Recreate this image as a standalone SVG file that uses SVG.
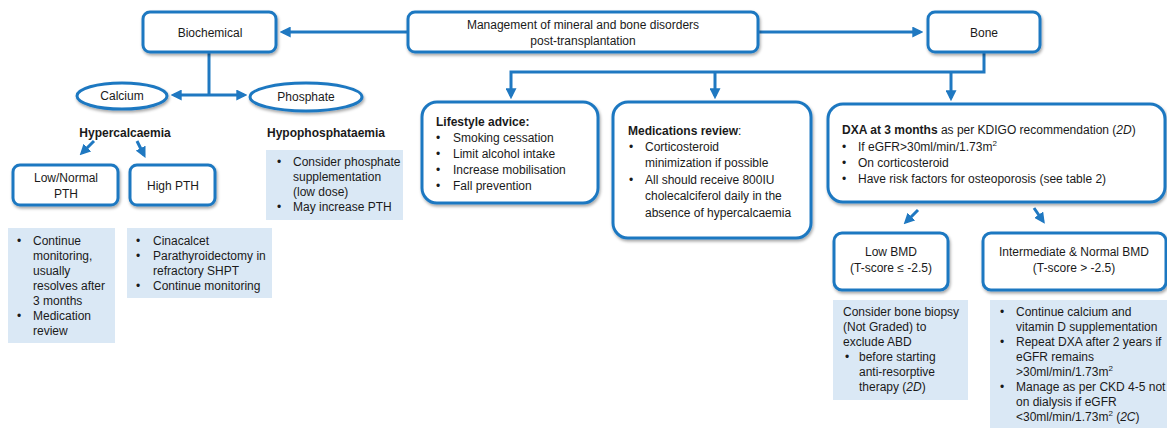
<svg xmlns="http://www.w3.org/2000/svg" width="1167" height="428" viewBox="0 0 1167 428">
<defs>
<filter id="sh" x="-10%" y="-10%" width="120%" height="130%"><feDropShadow dx="1" dy="2" stdDeviation="1.5" flood-color="#000" flood-opacity="0.35"/></filter>
<marker id="ah" markerWidth="11" markerHeight="11" refX="7" refY="5" orient="auto" markerUnits="userSpaceOnUse" viewBox="0 0 10 10"><path d="M0,0 L10,5 L0,10 z" fill="#1f78c1"/></marker>
<style>
.box{fill:#fff;stroke:#1f78c1;stroke-width:3;filter:url(#sh)}
.note{fill:#dae8f5}
.c{fill:none;stroke:#1f78c1;stroke-width:3}
text{font-family:"Liberation Sans",Arial,sans-serif;font-size:12px;fill:#1a1a1a}
.m{text-anchor:middle}
.b{font-weight:bold}
.i{font-style:italic}
</style>
</defs>
<g id="connectors">
<path class="c" d="M408,32 H283" marker-end="url(#ah)"/>
<path class="c" d="M758,32 H920" marker-end="url(#ah)"/>
<path class="c" d="M209,52 V95"/>
<path class="c" d="M209,95 H174" marker-end="url(#ah)"/>
<path class="c" d="M209,95 H244" marker-end="url(#ah)"/>
<path class="c" d="M984,52 V72 H511 V96" marker-end="url(#ah)"/>
<path class="c" d="M715,72 V96" marker-end="url(#ah)"/>
<path class="c" d="M951,72 V98" marker-end="url(#ah)"/>
<path class="c" d="M94,141 L82,153" marker-end="url(#ah)"/>
<path class="c" d="M137,141 L144,155" marker-end="url(#ah)"/>
<path class="c" d="M918,210 L906,222" marker-end="url(#ah)"/>
<path class="c" d="M1034,208 L1043,221" marker-end="url(#ah)"/>
</g>
<g id="main">
<rect class="box" x="408" y="12" width="350" height="40" rx="7"/>
<text class="m" x="583" y="29" font-size="13">Management of mineral and bone disorders</text>
<text class="m" x="583" y="45" font-size="13">post-transplantation</text>
</g>
<g id="biochemical">
<rect class="box" x="143" y="12" width="133" height="40" rx="7"/>
<text class="m" x="210" y="37" font-size="13">Biochemical</text>
</g>
<g id="bone">
<rect class="box" x="928" y="12" width="112" height="40" rx="7"/>
<text class="m" x="984" y="37" font-size="13">Bone</text>
</g>
<g id="calcium">
<ellipse class="box" cx="122" cy="96" rx="45" ry="13"/>
<text class="m" x="122" y="100" font-size="13">Calcium</text>
</g>
<g id="phosphate">
<ellipse class="box" cx="306" cy="97" rx="56" ry="14"/>
<text class="m" x="306" y="101" font-size="13">Phosphate</text>
</g>
<g id="hypercalcaemia">
<text class="m b" x="125" y="137" font-size="13">Hypercalcaemia</text>
</g>
<g id="hypophosphataemia">
<text class="m b" x="326" y="137" font-size="13">Hypophosphataemia</text>
</g>
<g id="lownormalpth">
<rect class="box" x="13" y="165" width="105" height="40" rx="7"/>
<text class="m" x="66" y="182" font-size="13">Low/Normal</text>
<text class="m" x="66" y="198" font-size="13">PTH</text>
</g>
<g id="highpth">
<rect class="box" x="130" y="165" width="85" height="40" rx="7"/>
<text class="m" x="173" y="190" font-size="13">High PTH</text>
</g>
<g id="phosphate-note">
<rect class="note" x="266" y="150" width="137" height="70"/>
<text x="277" y="166">•</text><text x="293" y="166">Consider phosphate</text>
<text x="293" y="181">supplementation</text>
<text x="293" y="196">(low dose)</text>
<text x="277" y="211">•</text><text x="293" y="211">May increase PTH</text>
</g>
<g id="lownormal-note">
<rect class="note" x="8" y="228" width="107" height="115"/>
<text x="17" y="245">•</text><text x="33" y="245">Continue</text>
<text x="33" y="260">monitoring,</text>
<text x="33" y="275">usually</text>
<text x="33" y="290">resolves after</text>
<text x="33" y="305">3 months</text>
<text x="17" y="320">•</text><text x="33" y="320">Medication</text>
<text x="33" y="335">review</text>
</g>
<g id="highpth-note">
<rect class="note" x="127" y="228" width="145" height="70"/>
<text x="136" y="245">•</text><text x="153" y="245">Cinacalcet</text>
<text x="136" y="260">•</text><text x="153" y="260">Parathyroidectomy in</text>
<text x="153" y="275">refractory SHPT</text>
<text x="136" y="290">•</text><text x="153" y="290">Continue monitoring</text>
</g>
<g id="lifestyle">
<rect class="box" x="422" y="102" width="176" height="101" rx="15"/>
<text class="b" x="436" y="126" font-size="12.5">Lifestyle advice:</text>
<text x="436" y="142">•</text><text x="453" y="142">Smoking cessation</text>
<text x="436" y="158">•</text><text x="453" y="158">Limit alcohol intake</text>
<text x="436" y="174">•</text><text x="453" y="174">Increase mobilisation</text>
<text x="436" y="190">•</text><text x="453" y="190">Fall prevention</text>
</g>
<g id="medications">
<rect class="box" x="613" y="102" width="198" height="136" rx="15"/>
<text x="628" y="135" font-size="12.5"><tspan class="b">Medications review</tspan>:</text>
<text x="629" y="151">•</text><text x="645" y="151">Corticosteroid</text>
<text x="645" y="167">minimization if possible</text>
<text x="629" y="184">•</text><text x="645" y="184">All should receive 800IU</text>
<text x="645" y="200">cholecalciferol daily in the</text>
<text x="645" y="217">absence of hypercalcaemia</text>
</g>
<g id="dxa">
<rect class="box" x="828" y="104" width="337" height="98" rx="15"/>
<text x="842" y="134" font-size="12.5"><tspan class="b">DXA at 3 months</tspan> as per KDIGO recommendation (<tspan class="i">2D</tspan>)</text>
<text x="842" y="151">•</text><text x="858" y="151">If eGFR&gt;30ml/min/1.73m<tspan font-size="8" dy="-5">2</tspan></text>
<text x="842" y="167">•</text><text x="858" y="167">On corticosteroid</text>
<text x="842" y="183">•</text><text x="858" y="183">Have risk factors for osteoporosis (see table 2)</text>
</g>
<g id="lowbmd">
<rect class="box" x="834" y="233" width="114" height="57" rx="8"/>
<text class="m" x="891" y="256" font-size="12.5">Low BMD</text>
<text class="m" x="891" y="272" font-size="12.5">(T-score ≤ -2.5)</text>
</g>
<g id="intbmd">
<rect class="box" x="983" y="233" width="183" height="57" rx="8"/>
<text class="m" x="1074" y="256" font-size="12.5">Intermediate &amp; Normal BMD</text>
<text class="m" x="1074" y="272" font-size="12.5">(T-score &gt; -2.5)</text>
</g>
<g id="lowbmd-note">
<rect class="note" x="833" y="300" width="135" height="100"/>
<text x="843" y="316">Consider bone biopsy</text>
<text x="843" y="331">(Not Graded) to</text>
<text x="843" y="346">exclude ABD</text>
<text x="845" y="361">•</text><text x="859" y="361">before starting</text>
<text x="859" y="376">anti-resorptive</text>
<text x="859" y="391">therapy (<tspan class="i">2D</tspan>)</text>
</g>
<g id="intbmd-note">
<rect class="note" x="990" y="300" width="177" height="128"/>
<text x="1000" y="316">•</text><text x="1016" y="316">Continue calcium and</text>
<text x="1016" y="331">vitamin D supplementation</text>
<text x="1000" y="346">•</text><text x="1016" y="346">Repeat DXA after 2 years if</text>
<text x="1016" y="361">eGFR remains</text>
<text x="1016" y="376">&gt;30ml/min/1.73m<tspan font-size="8" dy="-5">2</tspan></text>
<text x="1000" y="391">•</text><text x="1016" y="391">Manage as per CKD 4-5 not</text>
<text x="1016" y="406">on dialysis if eGFR</text>
<text x="1016" y="421">&lt;30ml/min/1.73m<tspan font-size="8" dy="-5">2</tspan><tspan dy="5"> (</tspan><tspan class="i">2C</tspan>)</text>
</g>
</svg>
